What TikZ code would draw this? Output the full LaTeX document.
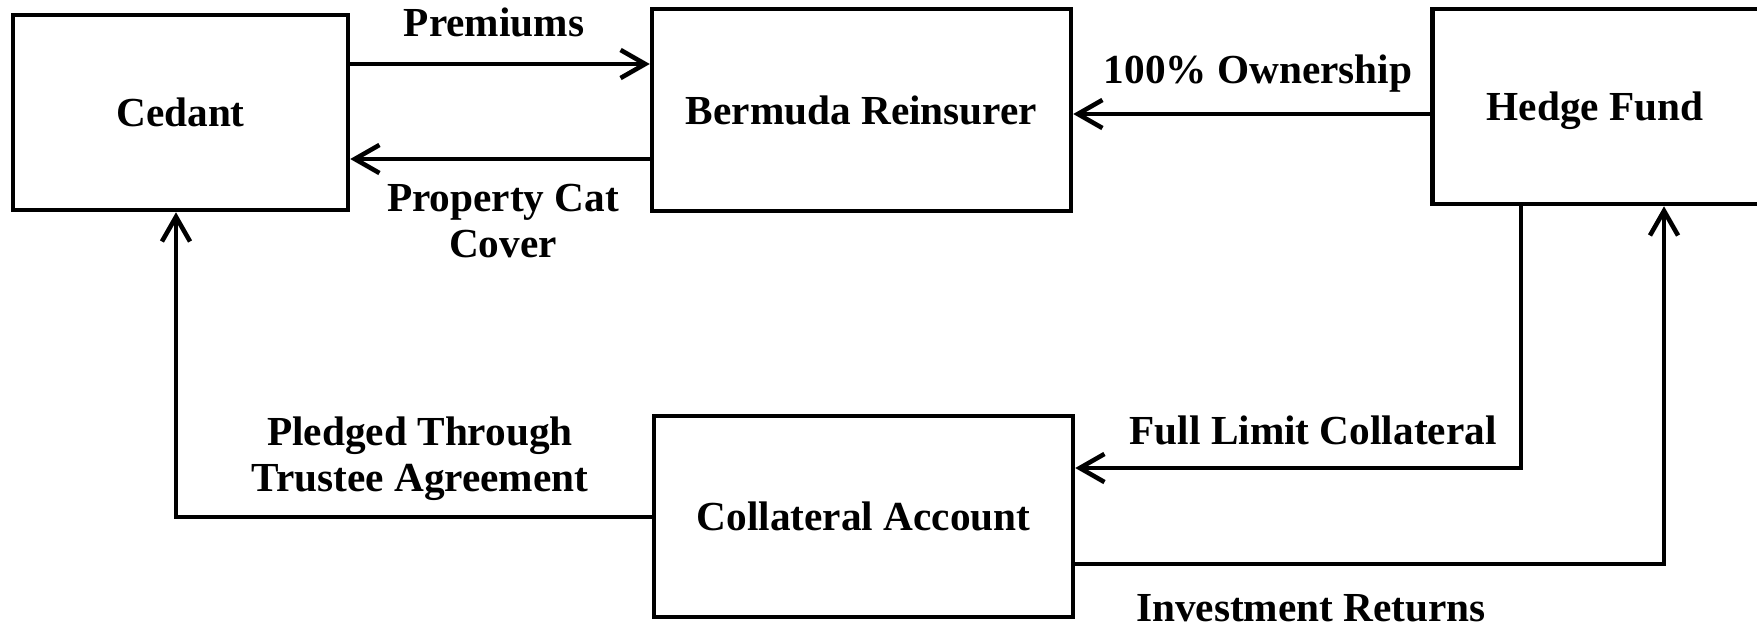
\documentclass[tikz,border=0pt]{standalone}
\usepackage{fontspec}
\setmainfont{Liberation Serif}
\usepackage{tikz}
\usetikzlibrary{arrows.meta}
\usetikzlibrary{positioning}

\tikzset{
	party/.style={draw, line width=2.6pt, inner sep=0pt, align=center},
	flow/.style={line width=2.6pt, -{Straight Barb[length=14pt,width=16pt,line width=2.6pt]}},
	txt/.style={align=center, inner sep=0pt}
}

\begin{document}
\begin{tikzpicture}[x=0.02cm, y=-0.02cm, font=\fontsize{23.5}{26}\selectfont\bfseries]
	\useasboundingbox (0,0) rectangle (1757,627);
	% the four parties
	\node[party, minimum width=6.7cm, minimum height=3.9cm] (ced) at (180.5,112.5) {Cedant};
	\node[party, minimum width=8.38cm, minimum height=4.04cm] (ber) at (861.5,110) {Bermuda Reinsurer};
	\node[party, minimum width=6.7cm, minimum height=3.9cm] (hed) at (1600,106.5) {};
	\node[txt] (hedtxt) at (1595,111) {Hedge Fund};
	\node[party, minimum width=8.38cm, minimum height=4.02cm] (col) at (863.5,516.5) {Collateral Account};

	% flows between them
	\draw[flow] (ced.east |- 0,64) -- (ber.west |- 0,64);
	\draw[flow] (ber.west |- 0,159) -- (ced.east |- 0,159);
	\draw[flow] (hed.west |- 0,114) -- (ber.east |- 0,114);
	\draw[flow] (col.west |- 0,517) -| (176,0 |- ced.south);
	\draw[flow] (1521,0 |- hed.south) |- (col.east |- 0,468);
	\draw[flow] (col.east |- 0,564) -| (1664,0 |- hed.south);

	% labels
	\node[txt] (prem) at (494,22) {Premiums};
	\node[txt] (cover) at (503,221) {Property Cat\\Cover};
	\node[txt] (own) at (1258,73.5) {100\% Ownership};
	\node[txt] (pledge) at (420,459) {Pledged Through\\Trustee Agreement};
	\node[txt] (limit) at (1313,430) {Full Limit Collateral};
	\node[txt] (ret) at (1311,608) {Investment Returns};
\end{tikzpicture}
\end{document}
